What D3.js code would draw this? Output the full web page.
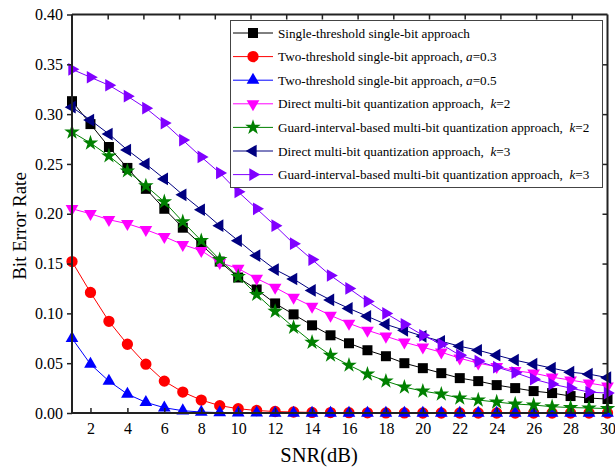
<!doctype html>
<html>
<head>
    <style>
        body { margin: 0; background: #fff; }
        text { font-family: "Liberation Serif", "Times New Roman", serif; fill: #000; }
    </style>
    <script src="https://d3js.org/d3.v7.min.js"></script>
</head>
<body>
    <svg width="615" height="468"></svg>
    <script>
        // SNR values (dB)
        var snr = d3.range(1, 31);

        // BER curves
        var singleThr = [0.313, 0.290, 0.267, 0.246, 0.225, 0.205, 0.186, 0.169, 0.152, 0.136,
            0.124, 0.110, 0.099, 0.088, 0.078, 0.070, 0.063, 0.057, 0.050, 0.045,
            0.040, 0.035, 0.032, 0.028, 0.025, 0.022, 0.020, 0.017, 0.015, 0.014];
        var twoThrA3 = [0.152, 0.121, 0.092, 0.069, 0.049, 0.032, 0.021, 0.013, 0.0074, 0.0043,
            0.0025, 0.0015, 0.001, 0.0006, 0.0004, 0.0003, 0.0002, 0.0001, 0.0001, 0,
            0, 0, 0, 0, 0, 0, 0, 0, 0, 0];
        var twoThrA5 = [0.075, 0.049, 0.032, 0.019, 0.0107, 0.0053, 0.0023, 0.001, 0.0004, 0.0002,
            0.0001, 0, 0, 0, 0, 0, 0, 0, 0, 0,
            0, 0, 0, 0, 0, 0, 0, 0, 0, 0];
        var directK2 = [0.205, 0.200, 0.194, 0.190, 0.184, 0.177, 0.169, 0.163, 0.151, 0.145,
            0.135, 0.126, 0.116, 0.107, 0.098, 0.090, 0.083, 0.077, 0.071, 0.066,
            0.061, 0.055, 0.050, 0.0465, 0.0425, 0.040, 0.036, 0.033, 0.030, 0.027];
        var guardK2 = [0.282, 0.271, 0.258, 0.243, 0.228, 0.212, 0.192, 0.173, 0.154, 0.137,
            0.119, 0.102, 0.086, 0.071, 0.058, 0.048, 0.039, 0.032, 0.026, 0.022,
            0.019, 0.015, 0.013, 0.011, 0.009, 0.008, 0.0063, 0.0055, 0.005, 0.0045];
        var directK3 = [0.307, 0.294, 0.280, 0.264, 0.250, 0.235, 0.219, 0.204, 0.188, 0.173,
            0.158, 0.144, 0.1345, 0.123, 0.1135, 0.105, 0.097, 0.089, 0.083, 0.077,
            0.072, 0.067, 0.063, 0.058, 0.053, 0.049, 0.045, 0.041, 0.039, 0.0355];
        var guardK3 = [0.345, 0.337, 0.329, 0.318, 0.306, 0.291, 0.274, 0.257, 0.241, 0.222,
            0.205, 0.188, 0.170, 0.154, 0.138, 0.125, 0.112, 0.100, 0.089, 0.078,
            0.069, 0.058, 0.052, 0.046, 0.0405, 0.034, 0.029, 0.025, 0.021, 0.020];

        var yTicks = [0, 0.05, 0.10, 0.15, 0.20, 0.25, 0.30, 0.35, 0.40];
        var xTicks = d3.range(2, 31, 2);

        var series = [
            { name: "Single-threshold single-bit approach", it: null, values: singleThr, color: "#000000", shape: "square" },
            { name: "Two-threshold single-bit approach, ", it: "a", tail: "=0.3", values: twoThrA3, color: "#ff0000", shape: "circle" },
            { name: "Two-threshold single-bit approach, ", it: "a", tail: "=0.5", values: twoThrA5, color: "#0000ff", shape: "up" },
            { name: "Direct multi-bit quantization approach,\u00a0 ", it: "k", tail: "=2", values: directK2, color: "#ff00ff", shape: "down" },
            { name: "Guard-interval-based multi-bit quantization approach,\u00a0 ", it: "k", tail: "=2", values: guardK2, color: "#008000", shape: "star" },
            { name: "Direct multi-bit quantization approach,\u00a0 ", it: "k", tail: "=3", values: directK3, color: "#000080", shape: "left" },
            { name: "Guard-interval-based multi-bit quantization approach,\u00a0 ", it: "k", tail: "=3", values: guardK3, color: "#8000ff", shape: "right" }
        ];

        var svg = d3.select("svg");
        var mLeft = 72, mRight = 607.5, mTop = 14.5, mBottom = 413;

        var x = d3.scaleLinear().domain([1, 30]).range([mLeft, mRight]);
        var xTop = d3.scaleLinear().domain([0, 30]).range([mLeft, mRight]);
        var y = d3.scaleLinear().domain([0, 0.4]).range([mBottom, mTop]);

        // marker path generator
        function marker(shape) {
            if (shape === "square") return d3.symbol().type(d3.symbolSquare).size(100)();
            if (shape === "circle") return d3.symbol().type(d3.symbolCircle).size(100)();
            if (shape === "star") return d3.symbol().type(d3.symbolStar).size(75)();
            return d3.symbol().type(d3.symbolTriangle).size(70)();
        }
        var rot = { up: 0, down: 180, left: -90, right: 90 };

        var line = d3.line()
            .x(function (d, i) { return x(snr[i]); })
            .y(function (d) { return y(d); });

        var plot = svg.append("g");

        series.forEach(function (s) {
            var g = plot.append("g");
            g.append("path")
                .attr("d", line(s.values))
                .attr("fill", "none")
                .attr("stroke", s.color)
                .attr("stroke-width", 1);
            g.selectAll("path.m")
                .data(s.values)
                .enter().append("path")
                .attr("class", "m")
                .attr("d", marker(s.shape))
                .attr("fill", s.color)
                .attr("transform", function (d, i) {
                    var r = rot[s.shape] || 0;
                    return "translate(" + x(snr[i]) + "," + y(d) + ") rotate(" + r + ")";
                });
        });

        // left axis, ticks outward
        var yl = svg.append("g")
            .attr("transform", "translate(" + mLeft + ",0)")
            .call(d3.axisLeft(y).tickValues(yTicks).tickFormat(d3.format(".2f")).tickSize(5).tickPadding(4));
        // bottom axis, ticks inward
        var xb = svg.append("g")
            .attr("transform", "translate(0," + mBottom + ")")
            .call(d3.axisBottom(x).tickValues(xTicks).tickSize(-5).tickPadding(10));
        // top axis, ticks inward, no labels
        var xt = svg.append("g")
            .attr("transform", "translate(0," + mTop + ")")
            .call(d3.axisTop(xTop).tickValues(d3.range(2, 30, 2)).tickSize(-5).tickFormat(""));
        // right axis, ticks inward, no labels
        var yr = svg.append("g")
            .attr("transform", "translate(" + mRight + ",0)")
            .call(d3.axisRight(y).tickValues(yTicks.slice(1, 8)).tickSize(-5).tickFormat(""));

        [yl, xb, xt, yr].forEach(function (a) {
            a.select(".domain").attr("stroke", "#222").attr("stroke-width", 2);
            a.selectAll(".tick line").attr("stroke", "#222").attr("stroke-width", 1.5);
            a.selectAll("text")
                .style("font-family", "'Liberation Serif', 'Times New Roman', serif")
                .style("font-size", "16px")
                .attr("fill", "#111");
        });
        xb.select(".domain").attr("d", "M" + mLeft + ",0H" + mRight);
        yl.select(".domain").attr("d", "M0," + mBottom + "V" + mTop);
        xt.select(".domain").attr("d", "M" + mLeft + ",0H" + mRight);
        yr.select(".domain").attr("d", "M0," + mBottom + "V" + mTop);

        // axis titles
        svg.append("text")
            .attr("x", 319)
            .attr("y", 462)
            .attr("text-anchor", "middle")
            .style("font-size", "20.5px")
            .text("SNR(dB)");
        svg.append("text")
            .attr("transform", "translate(26,226) rotate(-90)")
            .attr("text-anchor", "middle")
            .style("font-size", "19px")
            .text("Bit Error Rate");

        // legend
        var lg = svg.append("g");
        lg.append("rect")
            .attr("x", 230.5).attr("y", 20.5)
            .attr("width", 372).attr("height", 167)
            .attr("fill", "#fff")
            .attr("stroke", "#444")
            .attr("stroke-width", 1);

        series.forEach(function (s, i) {
            var ly = 33 + i * 23.6;
            lg.append("line")
                .attr("x1", 233).attr("x2", 273)
                .attr("y1", ly).attr("y2", ly)
                .attr("stroke", s.color).attr("stroke-width", 1);
            lg.append("path")
                .attr("d", marker(s.shape))
                .attr("fill", s.color)
                .attr("transform", "translate(253," + ly + ") rotate(" + (rot[s.shape] || 0) + ")");
            var t = lg.append("text")
                .attr("x", 278)
                .attr("y", ly + 4.5)
                .style("font-size", "13.2px");
            t.append("tspan").text(s.name);
            if (s.it) {
                t.append("tspan").style("font-style", "italic").text(s.it);
                t.append("tspan").text(s.tail);
            }
        });
    </script>
</body>
</html>
